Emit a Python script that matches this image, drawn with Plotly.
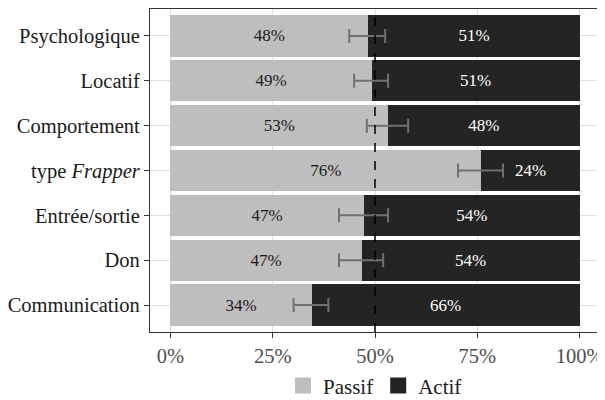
import plotly.graph_objects as go

categories = ["Communication", "Don", "Entrée/sortie", "type <i>Frapper</i>",
              "Comportement", "Locatif", "Psychologique"]
passif = [34.5, 46.7, 47.3, 76.0, 53.2, 49.2, 48.4]
actif = [100 - p for p in passif]
passif_labels = ["34%", "47%", "47%", "76%", "53%", "49%", "48%"]
actif_labels = ["66%", "54%", "54%", "24%", "48%", "51%", "51%"]
ci_low = [30.1, 41.2, 41.2, 70.3, 48.0, 44.9, 43.7]
ci_high = [38.6, 52.0, 53.2, 81.3, 58.1, 53.2, 52.5]
x_ticks = [0, 25, 50, 75, 100]
x_tick_labels = ["0%", "25%", "50%", "75%", "100%"]

FONT = "Liberation Serif"
C_PASSIF = "#bebebe"
C_ACTIF = "#242424"

fig = go.Figure()
fig.add_trace(go.Bar(
    y=categories, x=passif, orientation="h", name="Passif",
    marker=dict(color=C_PASSIF, line=dict(width=0)),
    text=passif_labels, textposition="inside", insidetextanchor="middle",
    textfont=dict(family=FONT, size=17, color="#1a1a1a"),
    width=0.92, showlegend=False, constraintext="none", hoverinfo="skip",
))
fig.add_trace(go.Bar(
    y=categories, x=actif, orientation="h", name="Actif",
    marker=dict(color=C_ACTIF, line=dict(width=0)),
    text=actif_labels, textposition="inside", insidetextanchor="middle",
    textfont=dict(family=FONT, size=17, color="white"),
    width=0.92, showlegend=False, constraintext="none", hoverinfo="skip",
))
fig.add_trace(go.Scatter(
    y=categories, x=passif, mode="markers",
    marker=dict(size=0.1, color="rgba(0,0,0,0)"),
    error_x=dict(type="data", symmetric=False,
                 array=[h - p for h, p in zip(ci_high, passif)],
                 arrayminus=[p - l for p, l in zip(passif, ci_low)],
                 color="#707070", thickness=2, width=7),
    showlegend=False, hoverinfo="skip",
))
# legend entries
for name, col in [("Passif", C_PASSIF), ("Actif", C_ACTIF)]:
    fig.add_trace(go.Scatter(
        x=[None], y=[None], mode="markers", name=name,
        marker=dict(symbol="square", size=18, color=col),
    ))

fig.add_shape(type="line", xref="x", yref="paper", x0=50, x1=50, y0=0, y1=1,
              line=dict(color="black", width=1.5, dash="dash"), layer="above")

fig.update_layout(
    width=597, height=392,
    margin=dict(l=142, r=5, t=1, b=68, autoexpand=False),
    barmode="stack", bargap=0.08,
    paper_bgcolor="white", plot_bgcolor="white",
    font=dict(family=FONT, size=20, color="#1a1a1a"),
    legend=dict(orientation="h", x=0.5, xanchor="center", y=-0.167,
                yanchor="middle", traceorder="normal",
                font=dict(family=FONT, size=21, color="#1a1a1a"),
                itemsizing="trace", bgcolor="rgba(0,0,0,0)"),
    xaxis=dict(range=[-5, 105], tickvals=x_ticks, ticktext=x_tick_labels,
               automargin=False,
               showgrid=True, gridcolor="#e0e0e0", gridwidth=1,
               zeroline=False, showline=True, linecolor="#333333", linewidth=1.3,
               mirror=True, ticks="outside", ticklen=5, tickcolor="#333333",
               tickwidth=1.3, tickfont=dict(family=FONT, size=20.5, color="#4d4d4d")),
    yaxis=dict(range=[-0.6, 6.6], categoryorder="array", categoryarray=categories,
               automargin=False,
               showgrid=True, gridcolor="#e0e0e0", gridwidth=1,
               zeroline=False, showline=True, linecolor="#333333", linewidth=1.3,
               mirror=True, ticks="outside", ticklen=5, tickcolor="#333333",
               tickwidth=1.3, tickfont=dict(family=FONT, size=20.5, color="#1a1a1a")),
)

fig.write_html("out.html")
